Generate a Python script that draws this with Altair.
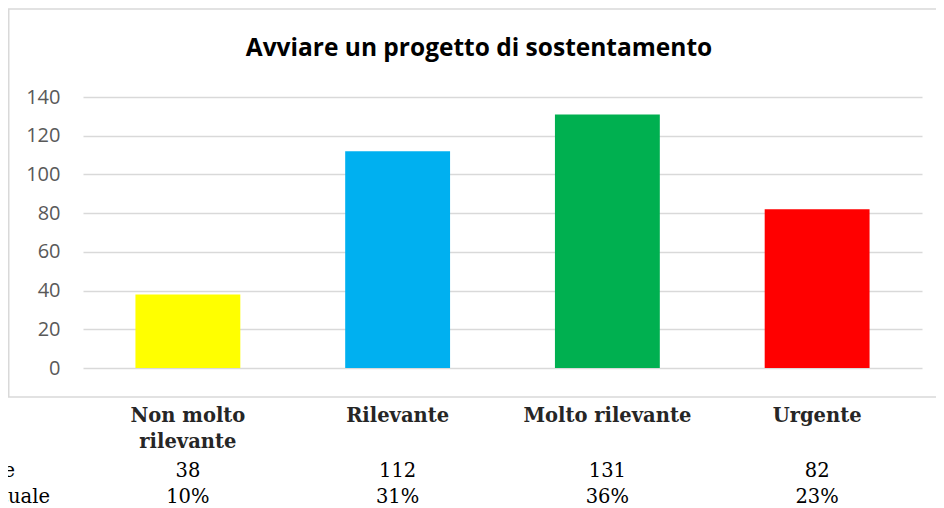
import altair as alt
import pandas as pd

title_text = "Avviare un progetto di sostentamento"
categories = ["Non molto rilevante", "Rilevante", "Molto rilevante", "Urgente"]
cat_labels = ["Non molto\nrilevante", "Rilevante", "Molto rilevante", "Urgente"]
values = [38, 112, 131, 82]
percents = ["10%", "31%", "36%", "23%"]
colors = ["#FFFF00", "#00B0F0", "#00B050", "#FF0000"]
row_labels = ["Frequenze assolute", "Percentuale"]
y_ticks = [0, 20, 40, 60, 80, 100, 120, 140]

df = pd.DataFrame({"cat": categories, "label": cat_labels, "val": values,
                   "pct": percents, "color": colors})
one = pd.DataFrame({"t": [title_text]})
rows = pd.DataFrame({"t": row_labels, "i": [0, 1]})

W, H = 839, 271
PL, PT = 75, 89
SERIF = "DejaVu Serif"

xenc = alt.X("cat:N", sort=categories, axis=None,
             scale=alt.Scale(paddingInner=0.5, paddingOuter=0.25))

border = alt.Chart(one).mark_rect(fillOpacity=0, stroke="#d9d9d9", strokeWidth=1.5).encode(
    x=alt.value(-PL + 0.75), x2=alt.value(W + 30),
    y=alt.value(1 - PT), y2=alt.value(389 - PT),
)

bars = alt.Chart(df).mark_bar().encode(
    x=xenc,
    y=alt.Y("val:Q", scale=alt.Scale(domain=[0, 140], nice=False),
            axis=alt.Axis(values=y_ticks, title=None, domain=False, ticks=False,
                          labelPadding=23, gridColor="#d9d9d9", gridWidth=1.5,
                          labelFont="Open Sans", labelFontSize=20, labelColor="#595959")),
    color=alt.Color("color:N", scale=None),
)

title = alt.Chart(one).mark_text(font="Open Sans", fontSize=24.5, fontWeight="bold",
                                 color="#000000", align="center", baseline="alphabetic").encode(
    x=alt.value(479 - 8 - PL), y=alt.value(56 - 8 - PT), text="t:N")

labels = alt.Chart(df).mark_text(font=SERIF, fontSize=19.5, fontWeight="bold",
                                 color="#262626", align="center", baseline="alphabetic",
                                 lineBreak="\n", lineHeight=26).encode(
    x=xenc, y=alt.value(422 - 8 - PT), text="label:N")

nums = alt.Chart(df).mark_text(font=SERIF, fontSize=19.5, color="#000000",
                               align="center", baseline="alphabetic").encode(
    x=xenc, y=alt.value(477 - 8 - PT), text="val:Q")

pcts = alt.Chart(df).mark_text(font=SERIF, fontSize=19.5, color="#000000",
                               align="center", baseline="alphabetic").encode(
    x=xenc, y=alt.value(503 - 8 - PT), text="pct:N")

row1 = alt.Chart(rows[rows.i == 0]).mark_text(font=SERIF, fontSize=19.5, color="#000000",
                                              align="right", baseline="alphabetic").encode(
    x=alt.value(15 - 8 - PL), y=alt.value(477 - 8 - PT), text="t:N")
row2 = alt.Chart(rows[rows.i == 1]).mark_text(font=SERIF, fontSize=19.5, color="#000000",
                                              align="right", baseline="alphabetic").encode(
    x=alt.value(50 - 8 - PL), y=alt.value(503 - 8 - PT), text="t:N")

chart = alt.layer(border, bars, title, labels, nums, pcts, row1, row2).properties(
    width=W, height=H,
    autosize=alt.AutoSizeParams(type="none"),
    padding={"left": PL, "top": PT, "right": 14, "bottom": 140},
    background="#ffffff",
).configure_view(stroke=None)

chart.save("out.html", embed_options={"renderer": "svg", "actions": False})
